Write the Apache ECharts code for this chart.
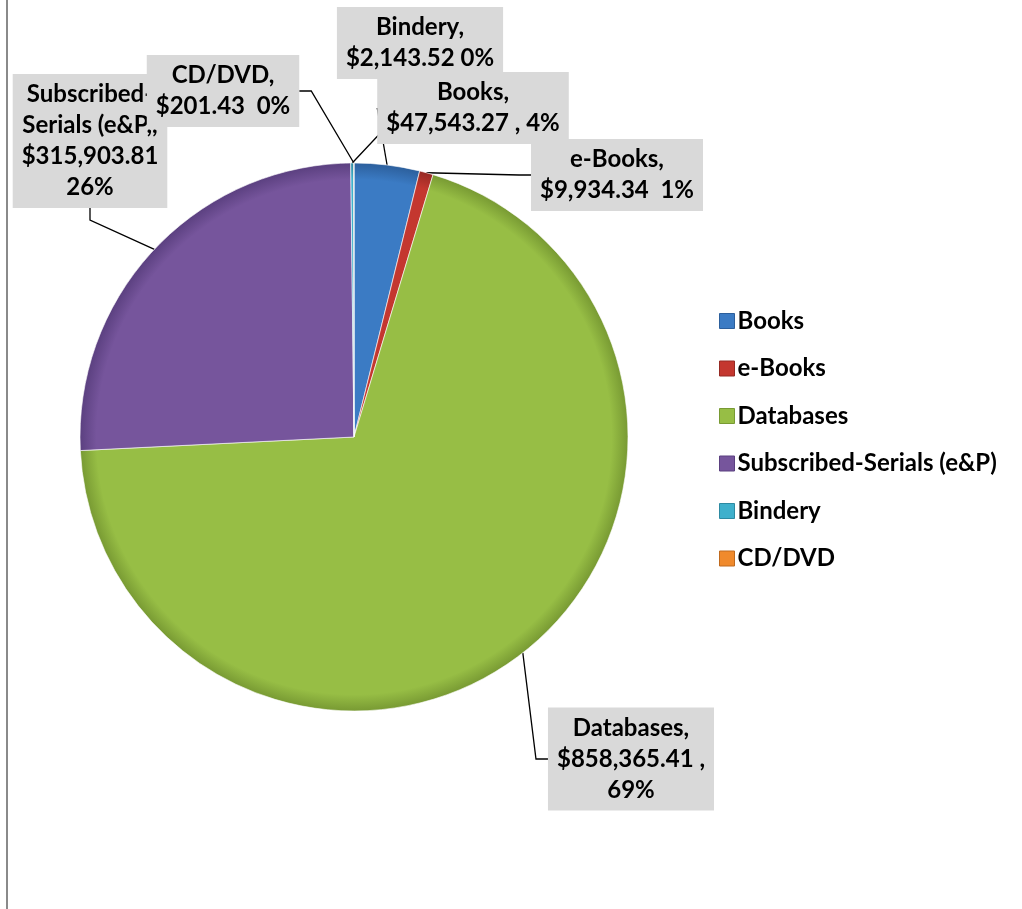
<!DOCTYPE html>
<html>
<head>
<meta charset="utf-8">
<script src="https://cdn.jsdelivr.net/npm/echarts@6/dist/echarts.min.js"></script>
<style>
  html, body { margin: 0; padding: 0; background: #fff; }
  #frame { position: absolute; left: 6px; top: 0; width: 2px; height: 909px; background: #8a8a8a; }
  #chart { position: absolute; left: 0; top: 0; width: 1022px; height: 909px; }
</style>
</head>
<body>
<div id="chart"></div>
<div id="frame"></div>
<script>
// ---- data ----
const categories = ['Books', 'e-Books', 'Databases', 'Subscribed-Serials (e&P)', 'Bindery', 'CD/DVD'];
const values = [47543.27, 9934.34, 858365.41, 315903.81, 2143.52, 201.43];
const labelTexts = [
  'Books,\n$47,543.27 , 4%',
  'e-Books,\n$9,934.34  1%',
  'Databases,\n$858,365.41 ,\n69%',
  'Subscribed-\nSerials (e&P,,\n$315,903.81\n26%',
  'Bindery,\n$2,143.52 0%',
  'CD/DVD,\n$201.43  0%'
];

// ---- styling / layout (not data) ----
const colors = ['#3b7bc4', '#c4372f', '#97be45', '#76559c', '#3fb0cc', '#f08a2c'];
const darkColors = ['#2c5f9c', '#962a24', '#789a33', '#5b4080', '#2d8aa2', '#c06a1e'];
const labelCenters = [
  [473, 108],
  [617, 175],
  [631, 759],
  [90, 141],
  [420, 43],
  [223, 91]
];
const labelZ = [6, 5, 5, 4, 3, 7];
const CX = 354, CY = 437, R = 274;
const FONT = 'Lato, "Open Sans", sans-serif';

function fillFor(i) {
  return {
    type: 'radial', x: CX, y: CY, r: R, global: true,
    colorStops: [
      { offset: 0, color: colors[i] },
      { offset: 0.94, color: colors[i] },
      { offset: 1, color: darkColors[i] }
    ]
  };
}

const seriesData = categories.map((name, i) => ({
  name: name,
  value: values[i],
  itemStyle: { color: fillFor(i) },
  label: { formatter: labelTexts[i] },
  labelLine: { z: labelZ[i] }
}));

const chart = echarts.init(document.getElementById('chart'), null, { renderer: 'canvas' });
chart.setOption({
  animation: false,
  color: colors,
  legend: {
    orient: 'vertical',
    left: 714,
    top: 304,
    itemWidth: 15,
    itemHeight: 15,
    itemGap: 23.5,
    icon: 'rect',
    data: categories.map((c, i) => ({ name: c, itemStyle: { color: colors[i], borderColor: darkColors[i], borderWidth: 1 } })),
    textStyle: {
      fontFamily: FONT,
      fontWeight: 'bold',
      fontSize: 24,
      color: '#000',
      padding: [0, 0, 0, -2]
    }
  },
  series: [{
    type: 'pie',
    center: [CX, CY],
    radius: R,
    startAngle: 90,
    clockwise: true,
    avoidLabelOverlap: false,
    itemStyle: { borderColor: '#ffffff', borderWidth: 0.6 },
    label: {
      show: true,
      position: 'outside',
      fontFamily: FONT,
      fontWeight: 'bold',
      fontSize: 24,
      lineHeight: 31,
      color: '#000',
      align: 'center',
      backgroundColor: '#d9d9d9',
      padding: [5, 9, 5, 9]
    },
    labelLine: {
      show: true,
      length: 20,
      length2: 12,
      lineStyle: { color: '#000', width: 1.3 }
    },
    labelLayout: function (params) {
      const p = labelCenters[params.dataIndex];
      return { x: p[0], y: p[1], align: 'center', verticalAlign: 'middle' };
    },
    data: seriesData
  }]
});
</script>
</body>
</html>
